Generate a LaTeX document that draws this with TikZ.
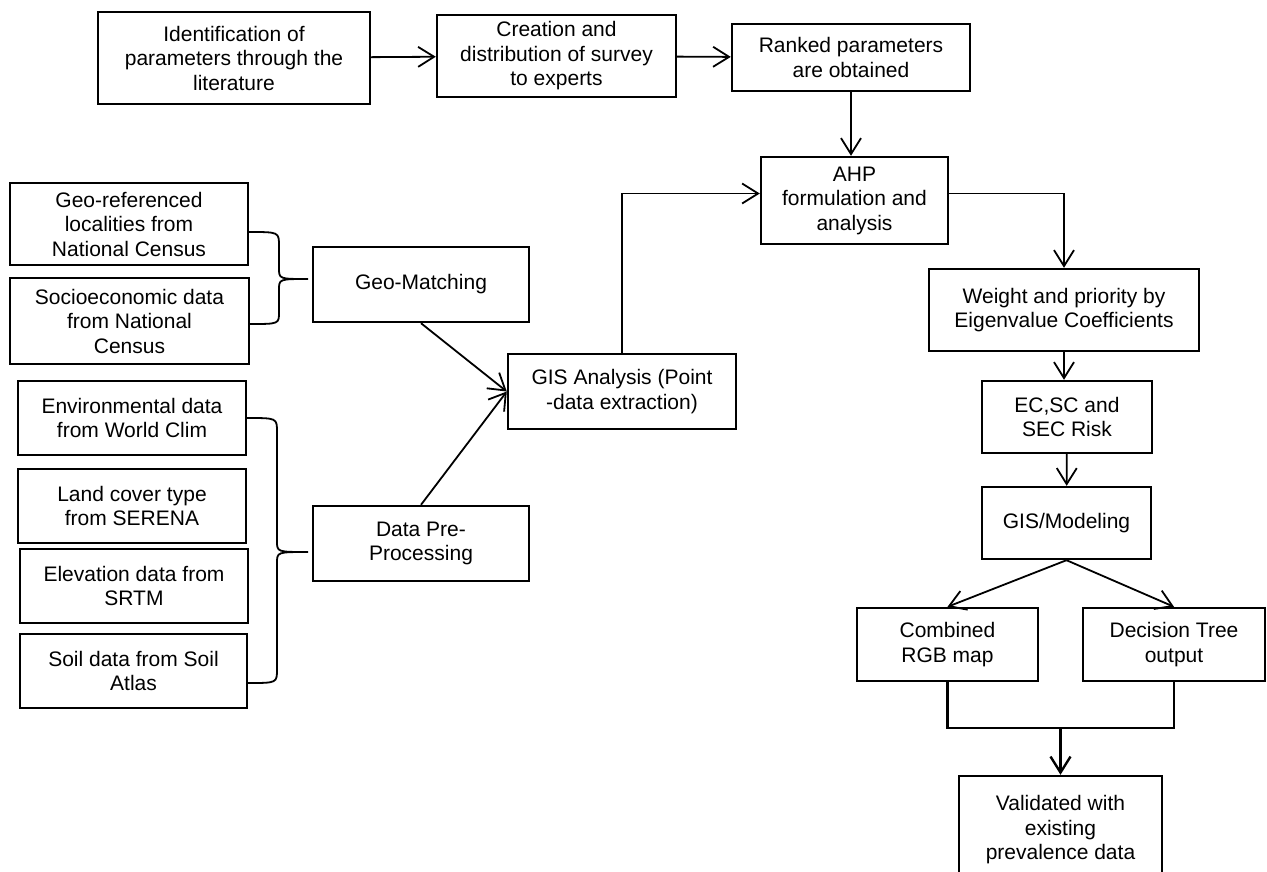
\documentclass[tikz,border=0pt]{standalone}
\usepackage{fontspec}
\setmainfont{Liberation Sans}
\usetikzlibrary{arrows.meta}
\newcommand{\boxfont}{\fontsize{21}{24.5}\selectfont}
\tikzset{>={Straight Barb[length=16pt,width=20pt]},
  blk/.style={draw,line width=2.4pt,align=center,inner sep=0pt,font=\boxfont},
  lnk/.style={line width=1.8pt}}

\begin{document}
\begin{tikzpicture}[x=1pt,y=-1pt]
\useasboundingbox (0,0) rectangle (1267,871);
\clip (0,0) rectangle (1267,871);

% ============ top row: parameters ============
\node[blk,minimum width=272pt,minimum height=92pt] (ident) at (234,58) {Identification of\\parameters through the\\literature};
\node[blk,minimum width=239pt,minimum height=82pt] (survey) at (556.5,56) {Creation and\\distribution of survey\\to experts};
\node[blk,minimum width=238pt,minimum height=67pt] (ranked) at (851,57.5) {Ranked parameters\\are obtained};
\node[blk,minimum width=187pt,minimum height=87pt] (ahp) at (854.5,200.5) {AHP\\formulation and\\analysis};
\draw[lnk,->] (ident) -- (survey);
\draw[lnk,->] (survey) -- (ranked);
\draw[lnk,->] (ranked.south) -- (ranked.south |- ahp.north);

% ============ left column: input data ============
\node[blk,minimum width=238pt,minimum height=82pt] (georef) at (129,224) {Geo-referenced\\localities from\\National Census};
\node[blk,minimum width=239pt,minimum height=86pt] (socio) at (129.5,321) {Socioeconomic data\\from National\\Census};
\node[blk,minimum width=228pt,minimum height=74pt] (env) at (132,418) {Environmental data\\from World Clim};
\node[blk,minimum width=228pt,minimum height=74pt] (land) at (132,506) {Land cover type\\from SERENA};
\node[blk,minimum width=228pt,minimum height=74pt] (elev) at (134,586) {Elevation data from\\SRTM};
\node[blk,minimum width=227pt,minimum height=74pt] (soil) at (133.5,671) {Soil data from Soil\\Atlas};

% braces gathering the inputs
\coordinate (tipA) at (308,279);
\coordinate (tipB) at (308,552);
\draw[lnk] ([yshift=-8pt]georef.east) .. controls (279,232) .. (279,246) -- (279,268)
  .. controls (279,279) .. (tipA) .. controls (279,279) .. (279,290) -- (279,312)
  .. controls (279,324) .. ([yshift=-3pt]socio.east);
\draw[lnk] (env.east) .. controls (277,418) .. (277,432) -- (277,541)
  .. controls (277,552) .. (tipB) .. controls (277,552) .. (277,563) -- (277,669)
  .. controls (277,683) .. ([yshift=-12pt]soil.east);

% ============ middle: processing ============
\node[blk,minimum width=216pt,minimum height=75pt] (match) at (421,284.5) {Geo-Matching};
\node[blk,minimum width=216pt,minimum height=75pt] (prep) at (421,543.5) {Data Pre-\\Processing};
\node[blk,minimum width=228pt,minimum height=75pt] (gis) at (622,391.5) {GIS Analysis (Point\\-data extraction)};
\draw[lnk,->] (match.south) -- (gis.west);
\draw[lnk,->] (prep.north) -- (gis.west);
\draw[lnk,->] (gis.north) |- ([yshift=7pt]ahp.west);

% ============ right column: weighting and mapping ============
\node[blk,minimum width=270pt,minimum height=82pt] (weight) at (1064,310) {Weight and priority by\\Eigenvalue Coefficients};
\node[blk,minimum width=170pt,minimum height=72pt] (risk) at (1067,417) {EC,SC and\\SEC Risk};
\node[blk,minimum width=169pt,minimum height=72pt] (model) at (1066.5,523) {GIS/Modeling};
\node[blk,minimum width=181pt,minimum height=73pt] (rgb) at (947.5,644.5) {Combined\\RGB map};
\node[blk,minimum width=182pt,minimum height=73pt] (tree) at (1174,644.5) {Decision Tree\\output};
\node[blk,minimum width=203pt,minimum height=108pt] (valid) at (1060.5,830) {Validated with\\existing\\prevalence data};
\draw[lnk,->] ([yshift=7pt]ahp.east) -| (weight.north);
\draw[lnk,->] (weight.south) -- (weight.south |- risk.north);
\draw[lnk,->] (risk) -- (model);
\draw[lnk,->] (model.south) -- (rgb.north);
\draw[lnk,->] (model.south) -- (tree.north);
\coordinate (merge) at (1060.5,728);
\draw[line width=2.4pt] (rgb.south) |- (merge) -| (tree.south);
\draw[line width=2.4pt,->] (merge) -- (valid.north);

\end{tikzpicture}
\end{document}
